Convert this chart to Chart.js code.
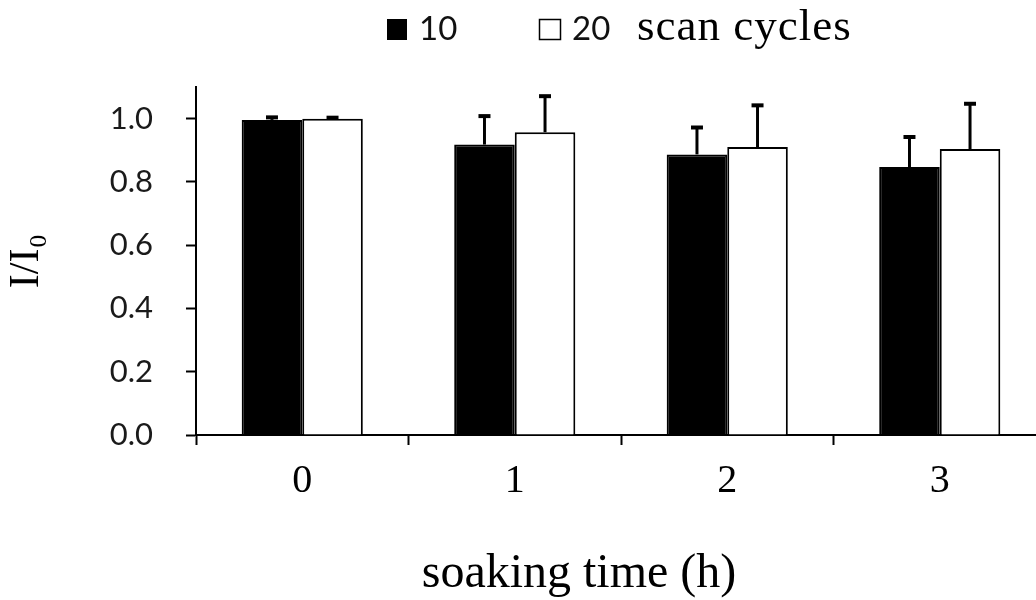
<!DOCTYPE html>
<html>
<head>
<meta charset="utf-8">
<title>I/I0 vs soaking time</title>
<script src="https://cdn.jsdelivr.net/npm/chart.js@4.4.1/dist/chart.umd.min.js"></script>
<style>
  html, body { margin: 0; padding: 0; background: #fff; overflow: hidden; }
  #wrap { width: 1036px; height: 600px; overflow: hidden; }
  #js--chart { display: block; }
</style>
</head>
<body>
<div id="wrap">
  <canvas id="js--chart" width="1046" height="600"></canvas>
</div>
<script>
// soaking time categories (h)
const labels = ['0', '1', '2', '3'];

// relative current I/I0 after 10 and 20 scan cycles
const cycles10 = [0.996, 0.918, 0.887, 0.847];
const cycles20 = [1.000, 0.957, 0.910, 0.904];

// standard deviation (only the upper half is drawn)
const err10 = [0.008, 0.090, 0.085, 0.095];
const err20 = [0.003, 0.114, 0.132, 0.143];

const yTicks = [0, 0.2, 0.4, 0.6, 0.8, 1.0];

const serif = "'Liberation Serif', 'Times New Roman', serif";
const sans = "Lato, 'Open Sans', sans-serif";

// upward error bars on top of every bar
const errorBars = {
  id: 'errorBars',
  afterDatasetsDraw(chart) {
    const ctx = chart.ctx;
    const y = chart.scales.y;
    const errs = [err10, err20];
    ctx.save();
    ctx.strokeStyle = '#000';
    chart.data.datasets.forEach(function(ds, d){
      const meta = chart.getDatasetMeta(d);
      meta.data.forEach(function(bar, i){
        const top = y.getPixelForValue(ds.data[i] + errs[d][i]);
        ctx.lineWidth = 3;
        ctx.beginPath();
        ctx.moveTo(bar.x, bar.y);
        ctx.lineTo(bar.x, top);
        ctx.stroke();
        ctx.lineWidth = 4;
        ctx.beginPath();
        ctx.moveTo(bar.x - 6, top);
        ctx.lineTo(bar.x + 6, top);
        ctx.stroke();
      });
    });
    ctx.restore();
  }
};

// legend row at the top and the x axis title
const extraText = {
  id: 'extraText',
  afterDraw(chart) {
    const ctx = chart.ctx;
    ctx.save();
    ctx.fillStyle = '#000';
    ctx.fillRect(387, 19, 20, 21);
    ctx.strokeStyle = '#000';
    ctx.lineWidth = 1.5;
    ctx.strokeRect(539.5, 19.5, 21, 20);

    ctx.textBaseline = 'alphabetic';
    ctx.textAlign = 'left';
    ctx.font = '33px ' + sans;
    ctx.fillStyle = '#111';
    ctx.fillText(chart.data.datasets[0].label, 419, 40);
    ctx.fillText(chart.data.datasets[1].label, 572, 40);

    ctx.fillStyle = '#000';
    ctx.font = '45px ' + serif;
    ctx.letterSpacing = '1px';
    ctx.fillText('scan cycles', 637, 40);
    ctx.letterSpacing = '0px';

    ctx.font = '48px ' + serif;
    ctx.textAlign = 'center';
    ctx.fillText('soaking time (h)', 579, 587);
    ctx.restore();
  }
};

const data = {
  labels: labels,
  datasets: [
    {
      label: '10',
      data: cycles10,
      backgroundColor: '#000',
      borderColor: '#000',
      borderWidth: 2
    },
    {
      label: '20',
      data: cycles20,
      backgroundColor: '#fff',
      borderColor: '#000',
      borderWidth: 2
    }
  ]
};

const config = {
  type: 'bar',
  data: data,
  plugins: [errorBars, extraText],
  options: {
    responsive: false,
    animation: false,
    devicePixelRatio: 1,
    layout: { padding: { top: 87, left: 0, right: 0, bottom: 0 } },
    datasets: {
      bar: { categoryPercentage: 0.57, barPercentage: 1.0 }
    },
    plugins: {
      legend: { display: false },
      tooltip: { enabled: false }
    },
    scales: {
      x: {
        grid: {
          display: true,
          offset: true,
          drawOnChartArea: false,
          drawTicks: true,
          tickLength: 10,
          tickWidth: 2,
          color: '#000'
        },
        border: { display: true, color: '#000', width: 2 },
        ticks: {
          color: '#000',
          padding: 12,
          font: { family: serif, size: 40 }
        },
        afterFit: function(scale){ scale.height = 165; }
      },
      y: {
        min: 0,
        max: 1.1,
        afterBuildTicks: function(scale){
          scale.ticks = yTicks.map(function(v){ return { value: v }; });
        },
        grid: {
          display: true,
          drawOnChartArea: false,
          drawTicks: true,
          tickLength: 10,
          tickWidth: 2,
          color: '#000'
        },
        border: { display: true, color: '#000', width: 2 },
        ticks: {
          color: '#1a1a1a',
          padding: 33,
          font: { family: sans, size: 31 },
          callback: function(v){ return Number(v).toFixed(1); }
        },
        title: {
          display: true,
          text: 'I/I\u2080',
          color: '#000',
          font: { family: serif, size: 42 },
          padding: { top: 2, bottom: 0 }
        },
        afterFit: function(scale){ scale.width = 196; }
      }
    }
  }
};

const chart = new Chart(document.getElementById('js--chart'), config);
</script>
</body>
</html>
